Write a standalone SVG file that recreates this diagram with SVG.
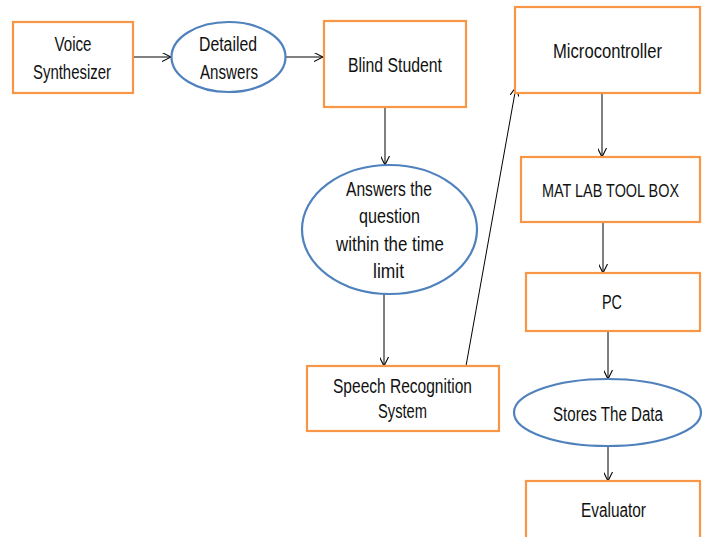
<svg xmlns="http://www.w3.org/2000/svg" width="707" height="537" viewBox="0 0 707 537">
<defs>
<style>
.box{fill:#fff;stroke:#F79646;stroke-width:2.2}
.ell{fill:#fff;stroke:#4F81BD;stroke-width:2.2}
.t{font-family:"Liberation Sans",Arial,sans-serif;font-size:20px;fill:#111;text-anchor:middle}
.c{stroke:#000;stroke-width:1;fill:none;marker-end:url(#ah)}
</style>
<marker id="ah" viewBox="0 0 10 10" refX="10" refY="5" markerWidth="9" markerHeight="9" markerUnits="userSpaceOnUse" orient="auto">
<path d="M0,0 L10,5 L0,10" fill="none" stroke="#000" stroke-width="1.2"/>
</marker>
</defs>
<rect width="707" height="537" fill="#fff"/>
<g id="connectors">
<line class="c" x1="133" y1="57" x2="171" y2="57"/>
<line class="c" x1="286" y1="57" x2="323" y2="57"/>
<line class="c" x1="385" y1="108" x2="385" y2="165"/>
<line class="c" x1="384" y1="294" x2="384" y2="366"/>
<line class="c" x1="466" y1="366" x2="516" y2="87"/>
<line class="c" x1="602" y1="93" x2="602" y2="157"/>
<line class="c" x1="603" y1="222" x2="603" y2="273"/>
<line class="c" x1="608" y1="331" x2="608" y2="379"/>
<line class="c" x1="608" y1="446" x2="608" y2="481"/>
</g>
<g id="voice-synthesizer">
<rect class="box" x="13" y="22" width="120" height="71"/>
<text class="t" x="73" y="51" textLength="37" lengthAdjust="spacingAndGlyphs">Voice</text>
<text class="t" x="72" y="79" textLength="78" lengthAdjust="spacingAndGlyphs">Synthesizer</text>
</g>
<g id="detailed-answers">
<ellipse class="ell" cx="228.5" cy="57" rx="57" ry="35"/>
<text class="t" x="228" y="51" textLength="58" lengthAdjust="spacingAndGlyphs">Detailed</text>
<text class="t" x="229" y="79" textLength="58" lengthAdjust="spacingAndGlyphs">Answers</text>
</g>
<g id="blind-student">
<rect class="box" x="324" y="21" width="142" height="86"/>
<text class="t" x="395" y="72" textLength="94" lengthAdjust="spacingAndGlyphs">Blind Student</text>
</g>
<g id="microcontroller">
<rect class="box" x="515" y="7" width="185" height="86"/>
<text class="t" x="607.5" y="58" textLength="109" lengthAdjust="spacingAndGlyphs">Microcontroller</text>
</g>
<g id="answers-question">
<ellipse class="ell" cx="389.5" cy="229.5" rx="87.5" ry="64.5"/>
<text class="t" x="389" y="196" textLength="86" lengthAdjust="spacingAndGlyphs">Answers the</text>
<text class="t" x="389.5" y="223" textLength="61" lengthAdjust="spacingAndGlyphs">question</text>
<text class="t" x="390" y="251" textLength="108" lengthAdjust="spacingAndGlyphs">within the time</text>
<text class="t" x="388.5" y="278" textLength="31" lengthAdjust="spacingAndGlyphs">limit</text>
</g>
<g id="speech-recognition">
<rect class="box" x="307" y="366" width="192" height="65"/>
<text class="t" x="402.5" y="393" textLength="139" lengthAdjust="spacingAndGlyphs">Speech Recognition</text>
<text class="t" x="402.5" y="418" textLength="49" lengthAdjust="spacingAndGlyphs">System</text>
</g>
<g id="matlab-toolbox">
<rect class="box" x="521" y="157" width="179" height="65"/>
<text class="t" x="610.5" y="197" style="font-size:18px" textLength="137" lengthAdjust="spacingAndGlyphs">MAT LAB TOOL BOX</text>
</g>
<g id="pc">
<rect class="box" x="526" y="273" width="174" height="58"/>
<text class="t" x="612" y="309" textLength="20" lengthAdjust="spacingAndGlyphs">PC</text>
</g>
<g id="stores-data">
<ellipse class="ell" cx="607.5" cy="412.5" rx="93.5" ry="33.5"/>
<text class="t" x="608" y="421" textLength="110" lengthAdjust="spacingAndGlyphs">Stores The Data</text>
</g>
<g id="evaluator">
<rect class="box" x="526" y="481" width="174" height="70"/>
<text class="t" x="613.5" y="517" textLength="65" lengthAdjust="spacingAndGlyphs">Evaluator</text>
</g>
</svg>
